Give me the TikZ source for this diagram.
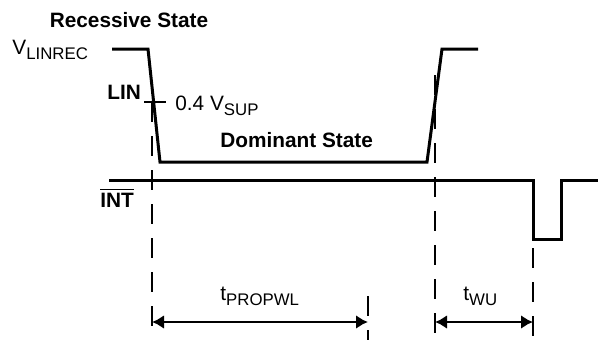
\documentclass[tikz,border=0pt]{standalone}
\usepackage{fontspec}
\setmainfont{Liberation Sans}
\usetikzlibrary{arrows.meta}
\newcommand{\sbs}[1]{\raisebox{-0.25em}{\fontsize{8.4}{10}\selectfont #1}}
\begin{document}
\begin{tikzpicture}[x=0.5pt, y=-0.5pt, font=\fontsize{10.4}{12}\selectfont,
        every node/.style={inner sep=0pt},
        wave/.style={line width=1.5pt},
        mark line/.style={line width=1pt, dash pattern=on 10pt off 7pt},
        span/.style={line width=1.2pt, {Latex[length=6pt,width=7pt]}-{Latex[length=6pt,width=7pt]}}]
        \useasboundingbox (0, 0) rectangle (605, 349);
        % LIN bus
        \draw[wave] (112, 49) -- (148, 49) -- (160, 162) -- (427, 162) -- (442, 49) -- (478, 49);
        % INT output
        \draw[wave] (109, 180) -- (533, 180) -- (533, 239) -- (561, 239) -- (561, 180) -- (598, 180);
        % markers
        \coordinate (fall) at (152, 102);
        \coordinate (rise) at (435, 75);
        \coordinate (wake) at (533, 180);
        \draw[line width=1pt] (144, 102) -- (166, 102);
        \draw[mark line] (fall) -- (152, 338);
        \draw[mark line] (rise) -- (435, 338);
        \draw[mark line] (wake) -- (533, 338);
        \draw[mark line] (368, 296) -- (368, 340);
        \draw[span] (152, 322) -- (368, 322);
        \draw[span] (435, 322) -- (533, 322);
        % labels
        \node[anchor=base] (rec) at (129, 27) {\bfseries Recessive State};
        \node[anchor=base west] (vrec) at (12, 54) {V\sbs{LINREC}};
        \node[anchor=base west] (lin) at (107, 99) {\bfseries LIN};
        \node[anchor=base west] (vsup) at (175, 110) {0.4 V\sbs{SUP}};
        \node[anchor=base west] (dom) at (220, 147) {\bfseries Dominant State};
        \node[anchor=base west] (int) at (100, 207) {$\overline{\mbox{\bfseries INT}}$};
        \node[anchor=base west] (tprop) at (220, 300) {t\sbs{PROPWL}};
        \node[anchor=base west] (twu) at (463, 300) {t\sbs{WU}};
    \end{tikzpicture}
\end{document}
